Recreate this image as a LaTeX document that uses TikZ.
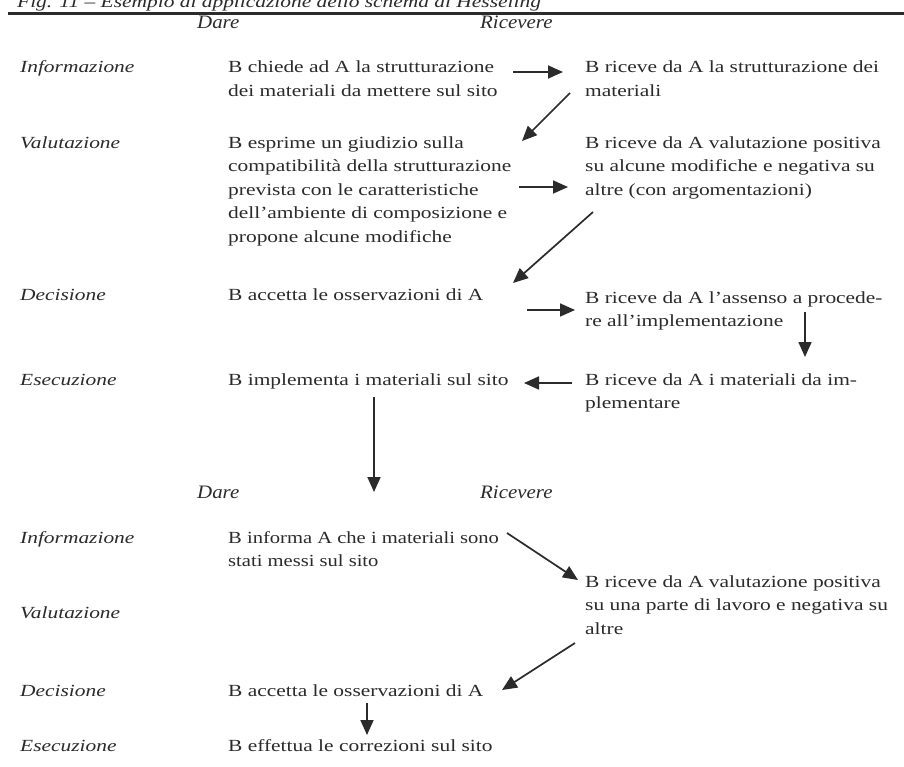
\documentclass[tikz,border=0pt]{standalone}
\usepackage{fontspec}
\setmainfont{Liberation Serif}[FakeStretch=1.26]
\newfontfamily\hdrfont{Liberation Serif}[FakeStretch=1.1]
\newfontfamily\narrowfont{Liberation Serif}[FakeStretch=1.21]
\usetikzlibrary{arrows.meta}
\definecolor{ink}{HTML}{2B2B2B}
\tikzset{
  txt/.style={anchor=base west, inner sep=0pt, align=left, text=ink,
    font=\fontsize{17bp}{23.5bp}\selectfont},
  lbl/.style={txt, font=\fontsize{17bp}{23.5bp}\selectfont\itshape},
  hdr/.style={anchor=base west, inner sep=0pt, text=ink,
    font=\hdrfont\fontsize{19bp}{23bp}\selectfont\itshape},
  arr/.style={draw=ink, line width=1.7bp, -{Triangle[length=15bp,width=13bp]}},
}
\begin{document}
\begin{tikzpicture}[x=1bp,y=-1bp]
\fill[white] (0,0) rectangle (904,767);
\useasboundingbox (0,0) rectangle (904,767);
\begin{scope}
\clip (0,0) rectangle (904,767);
\node[lbl] (cap) at (17,7.5) {Fig. 11 -- Esempio di applicazione dello schema di Hesseling};
\end{scope}
\draw[ink, line width=2.5bp] (8,13.5) -- (904,13.5);
% headers
\node[hdr] (h1d) at (197,28.5) {Dare};
\node[hdr] (h1r) at (480,28.5) {Ricevere};
\node[hdr] (h2d) at (197,498) {Dare};
\node[hdr] (h2r) at (480,498) {Ricevere};
% row labels
\node[lbl] (l1) at (20,73) {Informazione};
\node[lbl] (l2) at (20,148) {Valutazione};
\node[lbl] (l3) at (20,300) {Decisione};
\node[lbl] (l4) at (20,385) {Esecuzione};
\node[lbl] (l5) at (20,543) {Informazione};
\node[lbl] (l6) at (20,618) {Valutazione};
\node[lbl] (l7) at (20,696) {Decisione};
\node[lbl] (l8) at (20,751) {Esecuzione};
% Dare column (anchor = baseline of last line)
\node[txt] (d1) at (228,96.5) {B chiede ad A la strutturazione\\dei materiali da mettere sul sito};
\node[txt] (d2) at (228,242) {B esprime un giudizio sulla\\compatibilità della strutturazione\\prevista con le caratteristiche\\dell’ambiente di composizione e\\propone alcune modifiche};
\node[txt] (d3) at (228,300) {B accetta le osservazioni di A};
\node[txt] (d4) at (228,385) {B implementa i materiali sul sito};
\node[txt, font=\narrowfont\fontsize{17bp}{23.5bp}\selectfont] (d5) at (228,566.5) {B informa A che i materiali sono\\stati messi sul sito};
\node[txt] (d7) at (228,696) {B accetta le osservazioni di A};
\node[txt] (d8) at (228,751) {B effettua le correzioni sul sito};
% Ricevere column
\node[txt] (r1) at (585,96.5) {B riceve da A la strutturazione dei\\materiali};
\node[txt] (r2) at (585,195) {B riceve da A valutazione positiva\\su alcune modifiche e negativa su\\altre (con argomentazioni)};
\node[txt] (r3) at (585,326.5) {B riceve da A l’assenso a procede-\\re all’implementazione};
\node[txt] (r4) at (585,408.5) {B riceve da A i materiali da im-\\plementare};
\node[txt] (r6) at (585,634) {B riceve da A valutazione positiva\\su una parte di lavoro e negativa su\\altre};
% arrow end points
\coordinate (a1s) at (513,72);  \coordinate (a1e) at (563,72);
\coordinate (a2s) at (570,93);  \coordinate (a2e) at (522,141);
\coordinate (a3s) at (519,187); \coordinate (a3e) at (568,187);
\coordinate (a4s) at (593,212); \coordinate (a4e) at (513,283);
\coordinate (a5s) at (527,310); \coordinate (a5e) at (575,310);
\coordinate (a6s) at (805,312); \coordinate (a6e) at (805,357);
\coordinate (a7s) at (572,383); \coordinate (a7e) at (524,383);
\coordinate (a8s) at (374,397); \coordinate (a8e) at (374,492);
\coordinate (a9s) at (507,533); \coordinate (a9e) at (578,580);
\coordinate (a10s) at (575,643); \coordinate (a10e) at (502,690);
\coordinate (a11s) at (367,703); \coordinate (a11e) at (367,735);
\foreach \i in {1,...,11} \draw[arr] (a\i s) -- (a\i e);
\end{tikzpicture}
\end{document}
